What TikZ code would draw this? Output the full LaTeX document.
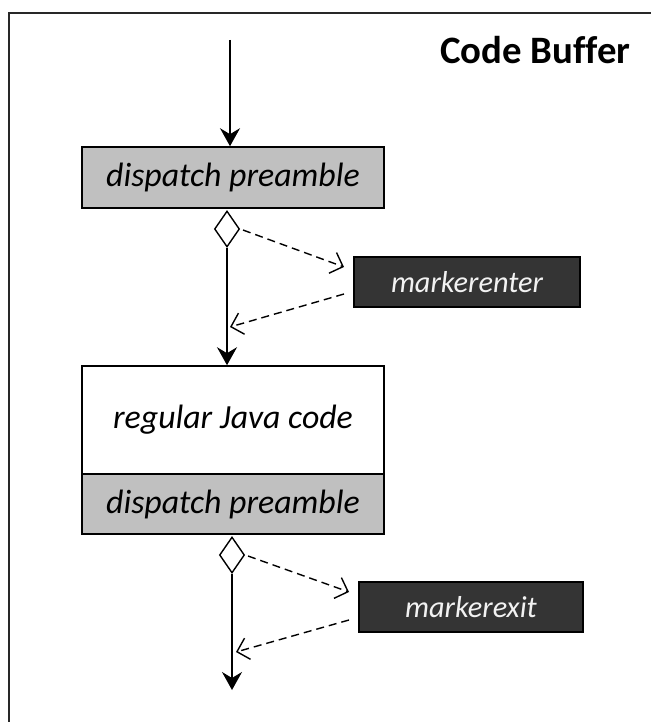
\documentclass[tikz,border=0pt]{standalone}
\usepackage{fontspec}
\setmainfont{Carlito}[Ligatures=NoCommon]
\usetikzlibrary{arrows.meta,shapes.geometric}
\definecolor{boxgray}{RGB}{192,192,192}
\definecolor{darkfill}{RGB}{52,52,52}
\definecolor{framegray}{RGB}{40,40,40}
\begin{document}
\begin{tikzpicture}[x=1pt,y=-1pt,
  lbl/.style={font=\fontsize{33.8}{34}\selectfont\itshape},
  graybox/.style={draw=black,line width=1.6pt,fill=boxgray,minimum width=302pt,inner sep=0pt,lbl},
  whitebox/.style={draw=black,line width=1.6pt,fill=white,minimum width=302pt,inner sep=0pt,lbl},
  darkbox/.style={draw=black,line width=1.2pt,fill=darkfill,text=white!95!black,minimum height=50pt,inner sep=0pt,font=\fontsize{30.3}{30}\selectfont\itshape},
  dia/.style={draw=black,line width=1.4pt,fill=white,diamond,minimum width=25pt,minimum height=36pt,inner sep=0pt},
  mainarrow/.style={line width=1.6pt,-{Stealth[length=18pt,width=20pt,inset=6pt]}},
  dasharrow/.style={line width=1.4pt,dash pattern=on 8pt off 5pt,-{Straight Barb[length=11pt,width=22pt]}}
]
\useasboundingbox (0,0) rectangle (650,722);
\draw[line width=2pt,framegray] (9,13) rectangle (670,740);
\node[anchor=east,font=\fontsize{38.8}{39}\selectfont\bfseries] (title) at (634,50) {Code Buffer};
\coordinate (start) at (230,40);
\coordinate (stop) at (232,690);
\node[graybox,minimum height=61pt] (box1) at (233,177.5) {dispatch preamble};
\node[whitebox,minimum height=108pt] (box2a) at (233,420) {regular Java code};
\node[graybox,minimum height=60pt] (box2b) at (233,504) {dispatch preamble};
\node[darkbox,minimum width=226pt] (me) at (467,282) {markerenter};
\node[darkbox,minimum width=224pt] (mx) at (471,607) {markerexit};
\node[dia] (d1) at (227,229) {};
\node[dia] (d2) at (232,555) {};
\coordinate (a1) at (344,267);
\coordinate (b1) at (344,294);
\coordinate (c1) at (230,327);
\coordinate (a2) at (349,592);
\coordinate (b2) at (349,620);
\coordinate (c2) at (236,652);
\draw[mainarrow] (start) -- (start |- box1.north);
\draw[mainarrow] (d1.south) -- (d1.south |- box2a.north);
\draw[mainarrow] (d2.south) -- (stop);
\draw[dasharrow,shorten <=3pt] (d1.east) -- (a1);
\draw[dasharrow] (b1) -- (c1);
\draw[dasharrow,shorten <=3pt] (d2.east) -- (a2);
\draw[dasharrow] (b2) -- (c2);
\end{tikzpicture}
\end{document}
